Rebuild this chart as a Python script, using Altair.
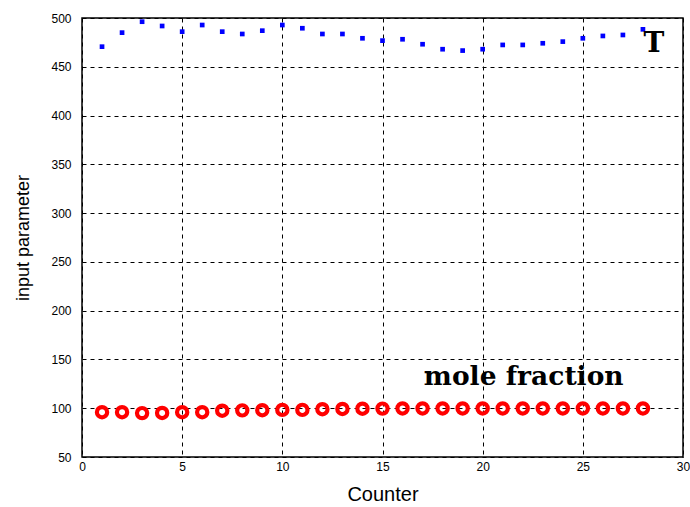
import altair as alt
import pandas as pd

counter = list(range(1, 29))
T_values = [470.6, 485.0, 496.2, 491.8, 486.0, 492.8, 486.0, 483.6, 487.0, 492.8,
            489.5, 483.6, 483.6, 479.2, 476.8, 478.2, 473.1, 468.0, 466.6, 468.0,
            472.4, 472.4, 474.1, 475.8, 479.2, 481.6, 482.6, 488.4]
mole_values = [95.9, 95.9, 95.0, 95.2, 95.9, 95.9, 97.5, 97.8, 98.0, 98.3,
               98.3, 99.0, 99.3, 99.5, 99.6, 99.8, 99.8, 99.8, 99.8, 99.8,
               99.8, 99.8, 99.8, 99.8, 99.8, 99.8, 99.8, 99.8]

labels_text = ["T", "mole fraction"]
labels_x = [28.55, 22.05]
labels_y = [473.5, 131.5]
labels_size = [28, 26.5]

df = pd.DataFrame({"Counter": counter, "T": T_values, "mole": mole_values})
lab = pd.DataFrame({"text": labels_text, "x": labels_x, "y": labels_y, "s": labels_size})

xs = alt.Scale(domain=[0, 30], nice=False, zero=False)
ys = alt.Scale(domain=[50, 500], nice=False, zero=False)

xaxis = alt.Axis(values=[0, 5, 10, 15, 20, 25, 30], title="Counter", grid=True,
                 gridColor="black", gridDash=[4, 4], gridOpacity=1, gridWidth=1,
                 ticks=False, domain=False, labelFont="Liberation Sans", labelFontSize=12,
                 labelColor="black", labelPadding=4, titleFont="Liberation Sans",
                 titleFontSize=20, titleFontWeight="normal", titleColor="black",
                 titlePadding=12, labelFlush=False)
yaxis = alt.Axis(values=[50, 100, 150, 200, 250, 300, 350, 400, 450, 500],
                 title="input parameter", grid=True,
                 gridColor="black", gridDash=[4, 4], gridOpacity=1, gridWidth=1,
                 ticks=False, domain=False, labelFont="Liberation Sans", labelFontSize=12,
                 labelColor="black", labelPadding=11, titleFont="Liberation Sans",
                 titleFontSize=18, titleFontWeight="normal", titleColor="black",
                 titlePadding=18, labelFlush=False)

base = alt.Chart(df)

tpts = base.mark_point(shape="square", filled=True, size=22, color="#0000ff", opacity=1).encode(
    x=alt.X("Counter:Q", scale=xs, axis=xaxis),
    y=alt.Y("T:Q", scale=ys, axis=yaxis),
)

mpts = base.mark_point(shape="circle", filled=False, size=105, strokeWidth=4.2,
                       color="#ff0000", opacity=1).encode(
    x=alt.X("Counter:Q", scale=xs),
    y=alt.Y("mole:Q", scale=ys),
)

txt = alt.Chart(lab).mark_text(font="DejaVu Serif", fontWeight="bold",
                               color="black", align="center", baseline="middle").encode(
    x=alt.X("x:Q", scale=xs),
    y=alt.Y("y:Q", scale=ys),
    text="text:N",
    size=alt.Size("s:Q", scale=None, legend=None),
)

chart = alt.layer(tpts, mpts, txt).properties(
    width=601, height=439,
    autosize=alt.AutoSizeParams(type="none"),
    padding={"left": 82, "top": 18, "right": 7, "bottom": 50},
    background="white",
).configure_view(stroke="black", strokeWidth=1.5)

chart.save("out.html", embed_options={"renderer": "svg", "actions": False})
